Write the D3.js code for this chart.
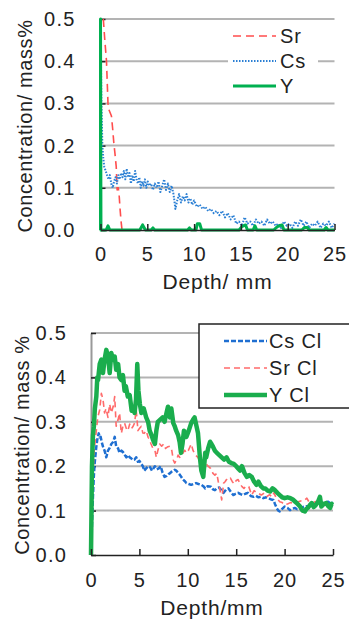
<!DOCTYPE html>
<html>
<head>
<meta charset="utf-8">
<script src="https://cdn.jsdelivr.net/npm/d3@7"></script>
<style>
  body { margin: 0; background: #fff; }
  svg text { font-family: "Liberation Sans", Arial, sans-serif; fill: #222; }
</style>
</head>
<body>
<div id="chart"></div>
<script>
const yTicks = [0, 0.1, 0.2, 0.3, 0.4, 0.5];
const xTicks = [0, 5, 10, 15, 20, 25];

// top panel, [depth mm, mass%]
const srTop = [[0.3,0.5],[0.46,0.45],[0.64,0.4],[0.8,0.3],[0.9,0.285],[1.17,0.27],[1.3,0.24],[1.42,0.207],
  [1.55,0.18],[1.68,0.15],[1.78,0.095],[1.9,0.1],[2.0,0.08],[2.1,0.047],[2.2,0.02],[2.3,0]];

const csTop = [[0,0.5],[0.05,0.4],[0.1,0.3],[0.15,0.25],[0.2,0.2],[0.3,0.17],[0.4,0.15],[0.55,0.14],[0.7,0.13],
  [0.85,0.12],[1.0,0.13],[1.15,0.11],[1.3,0.1],[1.45,0.115],[1.6,0.125],[1.75,0.11],[1.9,0.13],[2.05,0.12],
  [2.2,0.135],[2.35,0.125],[2.5,0.14],[2.65,0.12],[2.8,0.145],[2.95,0.125],[3.1,0.135],[3.25,0.11],[3.4,0.13],
  [3.55,0.115],[3.7,0.14],[3.85,0.12],[4.0,0.11],[4.15,0.125],[4.3,0.1],[4.45,0.115],[4.6,0.105],[4.75,0.12],
  [4.9,0.1],[5.05,0.115],[5.2,0.105],[5.4,0.11],[5.6,0.095],[5.8,0.11],[6.0,0.1],[6.2,0.115],[6.4,0.09],
  [6.6,0.105],[6.8,0.12],[7.0,0.095],[7.2,0.11],[7.4,0.09],[7.6,0.105],[7.8,0.085],[8.0,0.05],[8.2,0.07],
  [8.4,0.085],[8.6,0.065],[8.8,0.08],[9.0,0.07],[9.2,0.085],[9.4,0.065],[9.6,0.075],[9.8,0.06],[10.0,0.07],
  [10.3,0.055],[10.6,0.06],[10.9,0.05],[11.2,0.055],[11.5,0.045],[11.8,0.05],[12.1,0.04],[12.4,0.045],
  [12.7,0.035],[13.0,0.045],[13.3,0.03],[13.6,0.04],[13.9,0.025],[14.2,0.035],[14.5,0.015],[14.8,0.02],
  [15.1,0.01],[15.4,0.03],[15.7,0.015],[16.0,0.02],[16.3,0.01],[16.6,0.025],[16.9,0.015],[17.2,0.02],
  [17.5,0.01],[17.8,0.025],[18.1,0.015],[18.4,0.02],[18.7,0.01],[19.0,0.015],[19.3,0.005],[19.6,0.02],
  [19.9,0.01],[20.2,0.015],[20.5,0.005],[20.8,0.02],[21.1,0.01],[21.4,0.025],[21.7,0.01],[22.0,0.02],
  [22.3,0.005],[22.6,0.015],[22.9,0.01],[23.2,0.02],[23.5,0.005],[23.8,0.015],[24.1,0.01],[24.4,0.02],
  [24.7,0.005],[25.0,0.015]];

const yTop = [[0,0],[0,0.5],[0.05,0],[0.6,0],[0.8,0.01],[1.0,0],[4.2,0],[4.5,0.012],[4.8,0],[5.4,0],[5.6,0.005],
  [5.8,0],[9.3,0],[9.5,0.005],[9.7,0],[10.2,0],[10.35,0.015],[10.6,0.015],[10.8,0],[14.8,0],[15.1,0.008],
  [15.5,0.012],[15.7,0],[16.3,0],[16.5,0.01],[16.7,0],[18.5,0],[18.9,0.008],[19.1,0.01],[19.4,0.012],[19.6,0],
  [21.5,0],[21.8,0.006],[22.1,0.006],[22.3,0],[23.9,0],[24.1,0.006],[24.3,0],[25,0]];

// bottom panel (Cl), [depth mm, mass%]
const csCl = [[0,0],[0.03,0.02],[0.1,0.07],[0.2,0.13],[0.3,0.18],[0.38,0.207],[0.55,0.244],[0.65,0.26],[0.8,0.274],
  [0.9,0.265],[1.0,0.266],[1.1,0.255],[1.24,0.244],[1.4,0.235],[1.58,0.22],[1.75,0.235],[1.9,0.24],[2.1,0.25],
  [2.3,0.255],[2.45,0.266],[2.6,0.245],[2.8,0.24],[2.95,0.23],[3.15,0.235],[3.3,0.232],[3.5,0.225],[3.65,0.22],
  [3.85,0.225],[4.0,0.22],[4.15,0.218],[4.3,0.214],[4.5,0.215],[4.67,0.22],[4.85,0.21],[5.0,0.212],[5.2,0.205],
  [5.36,0.2],[5.5,0.19],[5.7,0.195],[5.9,0.2],[6.1,0.198],[6.3,0.19],[6.45,0.195],[6.6,0.2],[6.8,0.193],
  [7.0,0.195],[7.2,0.2],[7.4,0.185],[7.6,0.176],[7.8,0.178],[8.0,0.182],[8.2,0.185],[8.35,0.188],[8.5,0.19],
  [8.65,0.192],[8.8,0.19],[9.0,0.185],[9.2,0.18],[9.35,0.175],[9.5,0.17],[9.7,0.166],[9.85,0.162],[10.1,0.16],
  [10.35,0.158],[10.6,0.16],[10.85,0.162],[11.1,0.16],[11.4,0.158],[11.6,0.155],[11.8,0.15],[12.05,0.155],
  [12.4,0.154],[12.6,0.148],[12.8,0.146],[13.0,0.15],[13.25,0.152],[13.5,0.145],[13.7,0.14],[13.95,0.147],
  [14.2,0.15],[14.45,0.142],[14.7,0.135],[14.95,0.138],[15.2,0.14],[15.45,0.137],[15.7,0.135],[15.95,0.138],
  [16.2,0.14],[16.5,0.133],[16.8,0.131],[17.05,0.133],[17.3,0.13],[17.55,0.131],[17.8,0.128],[18.1,0.13],
  [18.35,0.128],[18.6,0.125],[18.85,0.124],[19.0,0.115],[19.2,0.105],[19.35,0.1],[19.5,0.098],[19.75,0.104],
  [20.0,0.109],[20.3,0.106],[20.55,0.101],[20.8,0.104],[21.05,0.106],[21.3,0.103],[21.6,0.105],[21.9,0.108],
  [22.2,0.11],[22.5,0.109],[22.8,0.113],[23.1,0.115],[23.5,0.117],[23.8,0.115],[24.1,0.118],[24.5,0.12],
  [24.75,0.116],[25,0.118]];

const srCl = [[0,0],[0.05,0.09],[0.2,0.18],[0.35,0.24],[0.55,0.28],[0.7,0.31],[0.9,0.327],[1.07,0.364],[1.24,0.35],
  [1.4,0.32],[1.55,0.33],[1.75,0.31],[1.93,0.34],[2.1,0.32],[2.3,0.335],[2.45,0.357],[2.6,0.29],[2.8,0.305],
  [2.95,0.32],[3.13,0.274],[3.3,0.29],[3.47,0.297],[3.65,0.285],[3.8,0.28],[4.0,0.295],[4.2,0.285],[4.35,0.29],
  [4.5,0.297],[4.67,0.327],[4.85,0.28],[5.0,0.285],[5.2,0.29],[5.35,0.275],[5.5,0.274],[5.7,0.28],[5.9,0.265],
  [6.05,0.26],[6.2,0.25],[6.4,0.24],[6.6,0.236],[6.75,0.22],[6.9,0.235],[7.1,0.25],[7.3,0.245],[7.5,0.25],
  [7.7,0.24],[7.95,0.244],[8.15,0.245],[8.35,0.235],[8.5,0.214],[8.65,0.207],[8.85,0.215],[9.0,0.225],
  [9.16,0.22],[9.4,0.225],[9.67,0.236],[9.85,0.23],[10.05,0.235],[10.35,0.25],[10.55,0.235],[10.8,0.225],
  [11.05,0.22],[11.25,0.21],[11.45,0.205],[11.7,0.214],[11.9,0.205],[12.1,0.2],[12.35,0.195],[12.6,0.184],
  [12.8,0.18],[13.0,0.184],[13.15,0.165],[13.3,0.15],[13.5,0.124],[13.7,0.162],[13.85,0.165],[14.0,0.17],
  [14.2,0.168],[14.4,0.173],[14.6,0.165],[14.8,0.16],[15.0,0.168],[15.2,0.17],[15.4,0.16],[15.6,0.154],
  [15.8,0.15],[16.0,0.155],[16.3,0.154],[16.6,0.135],[16.85,0.145],[17.1,0.14],[17.35,0.138],[17.6,0.135],
  [17.9,0.14],[18.2,0.132],[18.45,0.136],[18.7,0.131],[18.9,0.14],[19.1,0.13],[19.3,0.125],[19.5,0.12],
  [19.75,0.118],[20.0,0.113],[20.3,0.115],[20.6,0.118],[20.9,0.117],[21.15,0.12],[21.4,0.12],[21.75,0.122],
  [22.1,0.124],[22.3,0.128],[22.5,0.12],[22.8,0.113],[23.0,0.118],[23.3,0.122],[23.6,0.115],[23.9,0.112],
  [24.2,0.11],[24.5,0.109],[24.75,0.112],[25,0.113]];

const yCl = [[0,0],[0.1,0.2],[0.2,0.27],[0.3,0.29],[0.4,0.33],[0.55,0.357],[0.65,0.4],[0.73,0.394],[0.9,0.43],
  [1.07,0.44],[1.15,0.42],[1.24,0.41],[1.4,0.44],[1.58,0.462],[1.76,0.447],[1.93,0.41],[2.1,0.455],[2.27,0.44],
  [2.45,0.447],[2.6,0.417],[2.8,0.43],[2.95,0.4],[3.13,0.394],[3.3,0.405],[3.47,0.37],[3.6,0.38],[3.8,0.357],
  [4.0,0.36],[4.2,0.325],[4.35,0.33],[4.5,0.32],[4.65,0.35],[4.78,0.43],[4.9,0.37],[5.05,0.34],[5.2,0.32],
  [5.45,0.33],[5.7,0.31],[5.9,0.3],[6.06,0.28],[6.25,0.27],[6.4,0.26],[6.6,0.25],[6.75,0.28],[6.9,0.3],
  [7.15,0.305],[7.4,0.31],[7.6,0.3],[7.8,0.32],[7.95,0.334],[8.15,0.31],[8.3,0.33],[8.5,0.297],[8.65,0.29],
  [8.8,0.28],[9.0,0.27],[9.16,0.254],[9.3,0.23],[9.45,0.25],[9.6,0.28],[9.85,0.266],[10.1,0.28],[10.35,0.297],
  [10.55,0.305],[10.7,0.31],[10.9,0.29],[11.05,0.275],[11.25,0.22],[11.4,0.19],[11.6,0.176],[11.8,0.23],
  [11.9,0.22],[12.1,0.24],[12.3,0.255],[12.45,0.25],[12.6,0.244],[12.8,0.235],[13.0,0.23],[13.25,0.225],
  [13.5,0.22],[13.75,0.215],[14.0,0.22],[14.25,0.21],[14.5,0.207],[14.75,0.205],[15.0,0.2],[15.2,0.195],
  [15.4,0.19],[15.6,0.2],[15.85,0.185],[16.1,0.176],[16.35,0.18],[16.6,0.176],[16.85,0.165],[17.1,0.158],
  [17.3,0.165],[17.55,0.155],[17.8,0.15],[18.0,0.15],[18.25,0.145],[18.5,0.143],[18.75,0.15],[19.0,0.146],
  [19.25,0.14],[19.5,0.135],[19.75,0.13],[20.0,0.128],[20.3,0.13],[20.6,0.128],[20.85,0.125],[21.1,0.12],
  [21.35,0.115],[21.6,0.109],[21.85,0.1],[22.1,0.098],[22.25,0.104],[22.4,0.106],[22.6,0.112],[22.8,0.117],
  [23.0,0.108],[23.2,0.112],[23.45,0.12],[23.65,0.131],[23.8,0.109],[24.05,0.115],[24.3,0.117],[24.5,0.11],
  [24.7,0.106],[24.85,0.115],[25,0.113]];

const svg = d3.select("#chart").append("svg")
  .attr("width", 349)
  .attr("height", 621);

function panel(p) {
  const x = d3.scaleLinear().domain([0, 25]).range([p.left, p.right]);
  const y = d3.scaleLinear().domain([0, 0.5]).range([p.bottom, p.top]);
  const g = svg.append("g");

  // grid lines
  g.selectAll(".grid").data(yTicks.filter(d => d > 0)).enter()
    .append("line")
    .attr("x1", p.left).attr("x2", p.right)
    .attr("y1", d => y(d)).attr("y2", d => y(d))
    .attr("stroke", "#b3b3b3")
    .attr("stroke-width", 2);

  // y axis
  const yAxis = d3.axisLeft(y).tickValues(yTicks).tickFormat(d3.format(".1f"))
    .tickSizeInner(-5).tickSizeOuter(0).tickPadding(p.yPad);
  const ya = g.append("g").attr("transform", "translate(" + p.left + ",0)").call(yAxis);
  ya.select(".domain").attr("stroke", p.frame).attr("stroke-width", 2);
  ya.selectAll(".tick line").attr("stroke", "#222").attr("stroke-width", 1.5);
  ya.selectAll("text").attr("font-size", 20).attr("fill", "#222").attr("letter-spacing", 1.2)
    .attr("font-family", "Liberation Sans, Arial, sans-serif");

  // series
  const line = d3.line().x(d => x(d[0])).y(d => y(d[1]));
  p.series.forEach(s => {
    g.append("path").datum(s.data)
      .attr("d", line)
      .attr("fill", "none")
      .attr("stroke", s.color)
      .attr("stroke-width", s.width)
      .attr("stroke-dasharray", s.dash)
      .attr("stroke-linejoin", "round");
  });

  // x axis
  const xAxis = d3.axisBottom(x).tickValues(xTicks)
    .tickSizeInner(-6).tickSizeOuter(0).tickPadding(p.xPad);
  const xa = g.append("g").attr("transform", "translate(0," + p.bottom + ")").call(xAxis);
  xa.select(".domain").attr("stroke", "#222").attr("stroke-width", 1.5);
  xa.selectAll(".tick line").attr("stroke", "#222").attr("stroke-width", 1.5);
  xa.selectAll("text").attr("font-size", 20).attr("fill", "#222").attr("letter-spacing", 1)
    .attr("font-family", "Liberation Sans, Arial, sans-serif");

  // titles
  g.append("text")
    .attr("x", (p.left + p.right) / 2)
    .attr("y", p.xTitleY)
    .attr("text-anchor", "middle")
    .attr("font-size", 21)
    .attr("letter-spacing", 0.8)
    .text(p.xTitle);
  g.append("text")
    .attr("transform", "translate(" + p.yTitleX + "," + p.yTitleMid + ") rotate(-90)")
    .attr("text-anchor", "middle")
    .attr("font-size", 20)
    .attr("letter-spacing", 0.6)
    .text(p.yTitle);

  // legend
  const L = p.legend;
  g.append("rect")
    .attr("x", L.x).attr("y", L.y)
    .attr("width", L.w).attr("height", L.h)
    .attr("fill", "#fff")
    .attr("stroke", L.border ? "#222" : "none")
    .attr("stroke-width", 1.5);
  p.series.forEach((s, i) => {
    const ly = L.rowY[i];
    g.append("line")
      .attr("x1", L.lineX1).attr("x2", L.lineX2)
      .attr("y1", ly).attr("y2", ly)
      .attr("stroke", s.color)
      .attr("stroke-width", s.width)
      .attr("stroke-dasharray", s.dash);
    g.append("text")
      .attr("x", L.textX)
      .attr("y", ly)
      .attr("dy", "0.36em")
      .attr("font-size", 20)
      .attr("letter-spacing", 0.8)
      .text(s.name);
  });
}

panel({
  left: 100.5, right: 334.5, top: 19, bottom: 230,
  frame: "#222", yPad: 25, xPad: 17,
  xTitle: "Depth/ mm", xTitleY: 289,
  yTitle: "Concentration/ mass%", yTitleX: 32, yTitleMid: 126,
  series: [
    { name: "Sr", data: srTop, color: "#ff4d4d", width: 1.6, dash: "8,5" },
    { name: "Cs", data: csTop, color: "#2a7fd4", width: 2, dash: "1.5,1.5" },
    { name: "Y", data: yTop, color: "#00b050", width: 3, dash: null }
  ],
  legend: { x: 228, y: 25, w: 90, h: 71, border: false,
    rowY: [36, 61, 86], lineX1: 233, lineX2: 276, textX: 280 }
});

panel({
  left: 91, right: 333, top: 333, bottom: 555,
  frame: "#999", yPad: 24, xPad: 18,
  xTitle: "Depth/mm", xTitleY: 615,
  yTitle: "Concentration/ mass %", yTitleX: 29, yTitleMid: 445,
  series: [
    { name: "Cs Cl", data: csCl, color: "#1f6fd1", width: 2.5, dash: "5,2" },
    { name: "Sr Cl", data: srCl, color: "#ff6b6b", width: 1.6, dash: "6,4" },
    { name: "Y Cl", data: yCl, color: "#1aad4d", width: 4.5, dash: null }
  ],
  legend: { x: 199, y: 324, w: 160, h: 84, border: true,
    rowY: [341, 368, 395], lineX1: 224, lineX2: 267, textX: 269 }
});
</script>
</body>
</html>
